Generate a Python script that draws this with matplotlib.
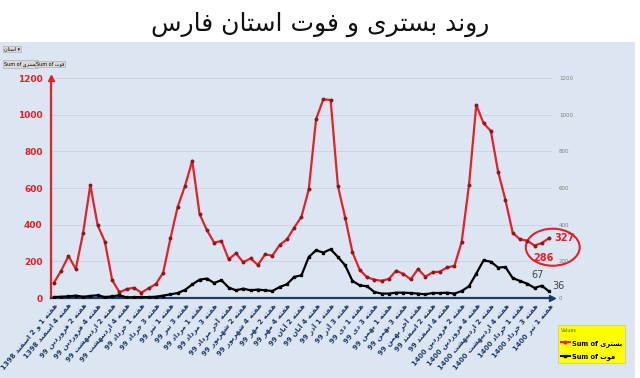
import matplotlib
matplotlib.use("Agg")
import matplotlib.pyplot as plt
from matplotlib.patches import Ellipse, Rectangle
from matplotlib.lines import Line2D

# --- minimal persian shaping (matplotlib has no bidi / joining) ---
FORMS = {
    'ا': ('\uFE8D', '\uFE8E', None, None),
    'آ': ('\uFE81', '\uFE82', None, None),
    'ب': ('\uFE8F', '\uFE90', '\uFE91', '\uFE92'),
    'ت': ('\uFE95', '\uFE96', '\uFE97', '\uFE98'),
    'خ': ('\uFEA5', '\uFEA6', '\uFEA7', '\uFEA8'),
    'د': ('\uFEA9', '\uFEAA', None, None),
    'ذ': ('\uFEAB', '\uFEAC', None, None),
    'ر': ('\uFEAD', '\uFEAE', None, None),
    'س': ('\uFEB1', '\uFEB2', '\uFEB3', '\uFEB4'),
    'ش': ('\uFEB5', '\uFEB6', '\uFEB7', '\uFEB8'),
    'ف': ('\uFED1', '\uFED2', '\uFED3', '\uFED4'),
    'م': ('\uFEE1', '\uFEE2', '\uFEE3', '\uFEE4'),
    'ن': ('\uFEE5', '\uFEE6', '\uFEE7', '\uFEE8'),
    'ه': ('\uFEE9', '\uFEEA', '\uFEEB', '\uFEEC'),
    'و': ('\uFEED', '\uFEEE', None, None),
    'ی': ('\uFEEF', '\uFEF0', '\uFEF3', '\uFEF4'),
}


def shape_word(w):
    out = []
    for i, c in enumerate(w):
        if c not in FORMS:
            out.append(c)
            continue
        prev = w[i - 1] if i > 0 else None
        nxt = w[i + 1] if i < len(w) - 1 else None
        cp = prev in FORMS and FORMS[prev][2] is not None
        cn = FORMS[c][2] is not None and nxt in FORMS
        iso, fin, ini, med = FORMS[c]
        if cp and cn:
            out.append(med)
        elif cp:
            out.append(fin)
        elif cn:
            out.append(ini)
        else:
            out.append(iso)
    return ''.join(out[::-1])


def fa(s):
    words = s.split(' ')
    res = []
    for w in words[::-1]:
        if any(ch in FORMS for ch in w):
            res.append(shape_word(w))
        else:
            res.append(w)
    return ' '.join(res)


title = "روند بستری و فوت استان فارس"
tick_labels = [
    "هفته 1 و 2 اسفند 1398", "هفته 4 اسفند 1398", "هفته 2 فروردین 99",
    "هفته 4 فروردین 99", "هفته 2 اردیبهشت 99", "هفته 4 اردیبهشت 99",
    "هفته 1 خرداد 99", "هفته 3 خرداد 99", "هفته 1 تیر 99", "هفته 3 تیر 99",
    "هفته 1 مرداد 99", "هفته 3 مرداد 99", "هفته آخر مرداد 99",
    "هفته 2 شهریور 99", "هفته 4 شهریور 99", "هفته 2 مهر 99", "هفته 4 مهر 99",
    "هفته 2 آبان 99", "هفته 4 آبان 99", "هفته 1 آذر 99", "هفته 3 آذر 99",
    "هفته 1 دی 99", "هفته 3 دی 99", "هفته 1 بهمن 99", "هفته 3 بهمن 99",
    "هفته آخر بهمن 99", "هفته 2 اسفند 99", "هفته 4 اسفند 99",
    "هفته 2 فروردین 1400", "هفته 4 فروردین 1400", "هفته 2 اردیبهشت 1400",
    "هفته 4 اردیبهشت 1400", "هفته 1 خرداد 1400", "هفته 3 خرداد 1400",
    "هفته 1 تیر 1400",
]

hospitalized = [83, 149, 229, 158, 354, 616, 398, 307, 98, 31,
                49, 56, 29, 53, 76, 138, 325, 498, 611, 749,
                458, 371, 302, 311, 211, 244, 195, 216, 180, 238,
                231, 289, 320, 384, 444, 593, 976, 1084, 1080, 611,
                438, 249, 153, 113, 100, 94, 104, 149, 131, 102,
                158, 116, 140, 144, 167, 175, 307, 616, 1053, 953,
                911, 689, 535, 356, 320, 313, 286, 300, 327]
deaths = [5, 7, 9, 13, 7, 11, 15, 5, 9, 15,
          3, 5, 5, 5, 7, 13, 20, 27, 44, 74,
          100, 106, 82, 97, 57, 42, 51, 42, 46, 42,
          38, 60, 75, 115, 124, 224, 260, 248, 266, 224,
          178, 93, 69, 64, 33, 24, 24, 29, 29, 27,
          24, 20, 27, 27, 29, 24, 38, 64, 133, 205,
          198, 166, 169, 109, 93, 78, 55, 67, 36]

RED = '#e81f27'
NAVY = '#1f3864'
BG = '#dce6f2'

x = list(range(len(hospitalized)))

fig = plt.figure(figsize=(6.4, 3.78), dpi=100)
fig.patch.set_facecolor('white')
fig.patches.append(Rectangle((0, 0), 0.992, (378 - 42) / 378, transform=fig.transFigure,
                             facecolor=BG, edgecolor='none', zorder=-10))

fig.text(0.5, 0.935, fa(title), ha='center', va='center', fontsize=18, color='#111111')

ax = fig.add_axes([51 / 640, 80 / 378, 501 / 640, 220 / 378])
ax.set_facecolor('none')
ax.plot(x, hospitalized, color=RED, lw=1.6, marker='o', ms=1.8,
        mfc='#8b1a1a', mec='#8b1a1a', zorder=3)
ax.plot(x, deaths, color='black', lw=1.6, marker='s', ms=1.6, zorder=3)

ax.set_xlim(-0.4, 68.4)
ax.set_ylim(0, 1200)
ax.set_yticks(range(0, 1201, 200))
ax.grid(axis='y', color='#c9d1dc', lw=0.6)
ax.set_axisbelow(True)
for s in ['top', 'right']:
    ax.spines[s].set_visible(False)
ax.spines['left'].set_color(RED)
ax.spines['left'].set_linewidth(1.6)
ax.spines['bottom'].set_color(NAVY)
ax.spines['bottom'].set_linewidth(1.6)
ax.plot(0, 1, marker='^', ms=4, color=RED, transform=ax.transAxes, clip_on=False)
ax.plot(1, 0, marker='>', ms=4, color=NAVY, transform=ax.transAxes, clip_on=False)

ax.tick_params(axis='y', length=0, pad=6, labelsize=6.5, labelcolor=RED)
for t in ax.get_yticklabels():
    t.set_fontweight('bold')

ax.set_xticks(x[::2])
ax.set_xticklabels([fa(s) for s in tick_labels], rotation=50, ha='right',
                   va='top', rotation_mode='anchor', fontsize=5,
                   fontweight='bold', color=NAVY)
ax.tick_params(axis='x', length=0, pad=3)

ax2 = ax.twinx()
ax2.set_ylim(0, 1200)
ax2.set_yticks(range(0, 1201, 200))
for s in ax2.spines.values():
    s.set_visible(False)
ax2.tick_params(axis='y', length=0, pad=5, labelsize=4, labelcolor='#7f7f7f')

# call-outs
ax.add_patch(Ellipse((68.5, 277), 7.4, 202, fill=False, edgecolor=RED, lw=1.5,
                     clip_on=False))
ax.annotate('327', (68, hospitalized[68]), xytext=(4, 0), textcoords='offset points',
            ha='left', va='center', fontsize=7, fontweight='bold', color=RED)
ax.annotate('286', (66, hospitalized[66]), xytext=(-1, -9), textcoords='offset points',
            ha='left', va='center', fontsize=7, fontweight='bold', color=RED)
ax.annotate('67', (67, deaths[67]), xytext=(-3, 8), textcoords='offset points',
            ha='center', va='center', fontsize=7, color='#444444')
ax.annotate('36', (68, deaths[68]), xytext=(2, 4), textcoords='offset points',
            ha='left', va='center', fontsize=7, color='#444444')

# pivot field buttons
btn = dict(boxstyle='square,pad=0.2', facecolor='#d9d9d9', edgecolor='#a6a6a6', lw=0.4)
fig.text(4 / 640, 1 - 49 / 378, fa('استان') + ' ▾', fontsize=3.5, va='center', bbox=btn)
fig.text(4 / 640, 1 - 64 / 378, 'Sum of ' + fa('بستری'), fontsize=3.5, va='center', bbox=btn)
fig.text(36 / 640, 1 - 64 / 378, 'Sum of ' + fa('فوت'), fontsize=3.5, va='center', bbox=btn)

# legend box
handles = [Line2D([], [], color=RED, marker='o', ms=2, lw=1.5),
           Line2D([], [], color='black', marker='s', ms=2, lw=1.5)]
leg = fig.legend(handles, ['Sum of ' + fa('بستری'), 'Sum of ' + fa('فوت')],
                 loc='upper left', bbox_to_anchor=(555 / 640, 1 - 322 / 378),
                 fontsize=4.8, frameon=True, facecolor='#ffff00', edgecolor='#bfbfbf',
                 fancybox=False, framealpha=1, handlelength=1.3, handletextpad=0.3,
                 borderpad=0.4, labelspacing=1.0, title='Values', title_fontsize=3.5,
                 alignment='left')
leg.get_frame().set_linewidth(0.5)
leg.get_title().set_color('#595959')
for t in leg.get_texts():
    t.set_fontweight('bold')

fig.savefig('out.png', dpi=100)
